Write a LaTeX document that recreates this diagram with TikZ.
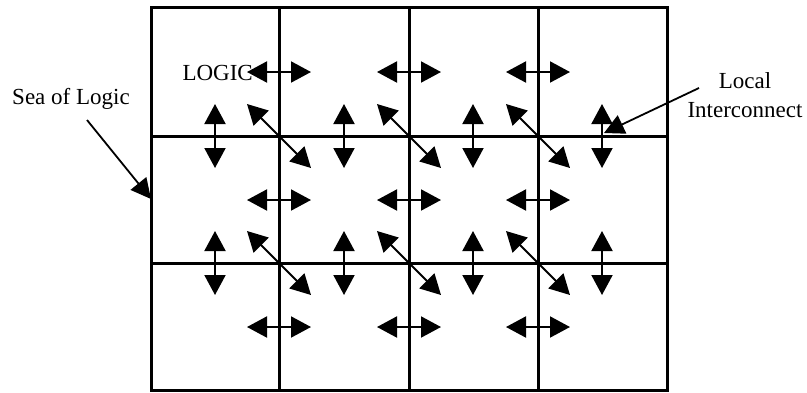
\documentclass[tikz,border=0pt]{standalone}
\usepackage{fontspec}
\setmainfont{Liberation Serif}
\usetikzlibrary{arrows.meta}
\tikzset{
  gridline/.style={line width=3pt, line cap=rect},
  dblarrow/.style={line width=2pt, {Triangle[length=20pt,width=21pt]}-{Triangle[length=20pt,width=21pt]}},
  pointer/.style={line width=1.8pt, -{Triangle[length=20pt,width=20pt]}},
  lbl/.style={inner sep=0pt, font=\fontsize{23}{29}\selectfont}
}
\begin{document}
\begin{tikzpicture}[x=1pt,y=-1pt]
\useasboundingbox (0,0) rectangle (807,392);
% grid
\draw[gridline] (151,7) rectangle (667,390);
\foreach \x in {279,409,538} \draw[gridline] (\x,7) -- (\x,390);
\foreach \y in {136,263} \draw[gridline] (151,\y) -- (667,\y);
% horizontal double arrows across inner vertical lines
\foreach \x in {279,409,538}
  \foreach \y in {72,200,327}
    \draw[dblarrow] (\x-32,\y) -- (\x+32,\y);
% vertical double arrows across inner horizontal lines
\foreach \x in {215,344,473,602}
  \foreach \y in {136,263}
    \draw[dblarrow] (\x,\y-32) -- (\x,\y+32);
% diagonal double arrows at inner intersections
\foreach \x in {279,409,538}
  \foreach \y in {136,263}
    \draw[dblarrow] (\x-32,\y-32) -- (\x+32,\y+32);
% labels
\node[lbl, anchor=east] (logic) at (253,72.5) {LOGIC};
\node[lbl, anchor=base] (sea) at (71,104) {Sea of Logic};
\node[lbl, anchor=base] (local) at (745,88) {Local};
\node[lbl, anchor=base] (inter) at (745,117) {Interconnect};
% pointers
\coordinate (seastart) at (87,120);
\coordinate (seatip) at (151,199);
\draw[pointer] (seastart) -- (seatip);
\coordinate (locstart) at (699,88);
\coordinate (loctip) at (604,133);
\draw[pointer] (locstart) -- (loctip);
\end{tikzpicture}
\end{document}
